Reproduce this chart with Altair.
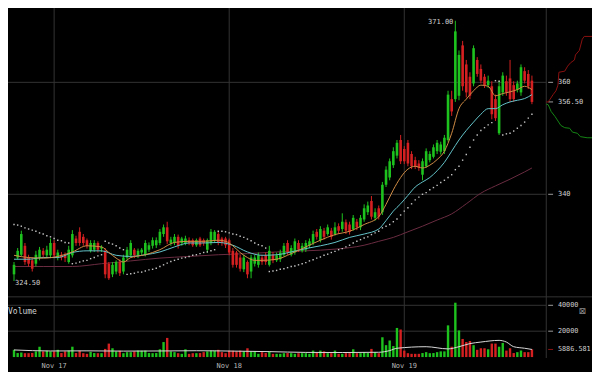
import altair as alt
import pandas as pd

# ---------------- data ----------------
start_time = "2014-11-16 18:30"   # first 30-minute candle

opens = [325.7, 328.7, 329.2, 330.8, 328.7, 328.2, 327.6, 328.7, 329.9, 329.1,
         329.1, 331.3, 328.7, 329.2, 329.1, 327.9, 329.1, 332.1, 333.3, 332.4,
         331.8, 329.9, 330.1, 331.3, 330.3, 329.9, 327.6, 325.7, 326.2, 327.9,
         326.2, 328.7, 329.1, 330.1, 329.1, 329.6, 329.2, 330.1, 330.8, 330.9,
         331.3, 332.9, 334.1, 331.3, 331.3, 332.4, 331.3, 331.3, 331.8, 331.8,
         330.9, 332.1, 331.8, 330.1, 331.3, 331.8, 332.9, 332.1, 332.1, 331.8,
         329.9, 329.6, 328.7, 326.6, 327.9, 326.2, 327.6, 327.4, 328.7, 329.1,
         327.4, 329.2, 328.2, 328.4, 329.2, 331.3, 329.2, 329.6, 331.3, 329.9,
         330.1, 330.8, 331.3, 333.3, 331.8, 333.5, 332.9, 333.5, 332.9, 334.3,
         333.8, 335.0, 334.6, 333.8, 335.1, 334.1, 335.5, 336.8, 338.8, 335.8,
         337.5, 336.8, 341.7, 343.0, 345.2, 346.9, 349.7, 348.1, 349.2, 347.2,
         346.1, 345.5, 343.5, 345.0, 346.1, 346.7, 347.7, 347.6, 347.7, 349.7,
         357.0, 357.0, 357.6, 366.6, 363.2, 361.0, 359.8, 364.0, 362.4, 361.0,
         359.5, 359.3, 357.0, 350.9, 358.2, 360.2, 360.7, 359.5, 358.7, 358.2,
         362.0, 361.5, 360.3]
closes = [327.4, 329.9, 332.9, 327.9, 327.6, 326.7, 329.2, 330.1, 329.2, 330.1,
          331.3, 329.1, 329.6, 328.7, 328.6, 330.1, 332.9, 331.3, 331.3, 331.3,
          330.8, 331.3, 331.3, 330.1, 330.6, 325.7, 325.0, 327.4, 327.9, 325.9,
          328.7, 330.1, 331.3, 329.1, 329.9, 330.1, 331.3, 330.9, 331.8, 331.8,
          333.3, 334.1, 331.6, 331.9, 332.4, 330.8, 332.1, 332.1, 331.3, 330.9,
          331.8, 330.9, 331.3, 331.8, 333.3, 333.3, 331.3, 331.3, 330.9, 329.6,
          327.4, 327.4, 326.7, 328.7, 325.7, 328.7, 328.7, 329.1, 327.9, 327.9,
          329.9, 328.2, 329.1, 329.6, 330.8, 329.6, 330.4, 331.6, 330.1, 330.8,
          331.3, 331.6, 332.9, 332.4, 333.8, 332.4, 334.1, 332.4, 334.1, 333.5,
          335.1, 333.5, 333.3, 335.8, 334.1, 335.8, 337.5, 338.0, 336.0, 336.8,
          336.0, 341.7, 344.4, 345.9, 347.7, 349.2, 345.9, 345.9, 345.5, 345.0,
          345.0, 344.7, 345.9, 347.7, 347.2, 348.4, 349.2, 348.9, 350.1, 357.8,
          354.8, 369.1, 364.9, 359.3, 358.2, 357.6, 366.1, 361.5, 360.3, 359.5,
          360.3, 354.3, 353.6, 359.3, 361.2, 358.2, 357.0, 357.0, 359.8, 362.7,
          360.3, 359.3, 356.5]
highs = [327.9, 330.4, 333.5, 331.3, 329.2, 328.7, 329.9, 330.6, 330.4, 330.8,
         332.1, 331.8, 330.1, 329.7, 329.6, 330.8, 333.6, 332.6, 334.1, 332.9,
         332.1, 331.8, 331.8, 331.6, 330.9, 330.4, 327.9, 327.9, 328.2, 328.4,
         329.2, 330.6, 331.8, 330.4, 330.3, 330.4, 331.8, 331.4, 332.3, 332.3,
         333.8, 334.6, 335.1, 332.4, 332.9, 332.8, 332.4, 332.6, 332.3, 332.1,
         332.1, 332.4, 332.1, 332.1, 333.8, 333.6, 333.3, 332.4, 332.4, 332.1,
         330.4, 329.9, 329.2, 329.2, 328.2, 329.2, 329.2, 329.6, 329.2, 329.6,
         330.8, 329.7, 329.6, 330.1, 331.3, 331.8, 330.9, 332.1, 331.8, 331.3,
         331.8, 332.1, 333.5, 333.8, 334.3, 334.0, 334.6, 334.0, 335.0, 334.8,
         336.6, 335.5, 335.1, 336.3, 335.6, 336.3, 338.2, 338.7, 339.7, 337.5,
         338.0, 342.2, 345.0, 346.4, 348.4, 349.7, 350.6, 348.6, 349.7, 347.7,
         346.7, 346.1, 346.4, 348.2, 347.7, 348.9, 349.7, 349.4, 350.6, 358.5,
         358.5, 371.0, 365.7, 367.4, 364.0, 361.8, 366.6, 364.5, 363.2, 361.5,
         361.2, 360.2, 357.8, 360.3, 361.8, 361.2, 364.0, 360.2, 360.3, 363.2,
         362.7, 362.2, 361.2]
lows = [324.5, 328.4, 328.9, 327.4, 327.1, 326.2, 327.1, 328.2, 328.7, 328.6,
        328.6, 328.6, 328.2, 328.2, 327.9, 327.6, 328.7, 330.8, 330.8, 330.8,
        330.3, 329.6, 329.7, 329.6, 329.7, 325.0, 324.7, 325.2, 325.7, 325.4,
        325.7, 328.2, 328.7, 328.6, 328.6, 329.1, 328.9, 329.7, 330.3, 330.4,
        330.9, 332.4, 331.1, 330.8, 330.9, 330.3, 330.8, 330.9, 330.9, 330.6,
        330.6, 330.6, 330.8, 329.6, 330.9, 331.3, 330.9, 330.8, 330.4, 329.1,
        326.9, 326.9, 326.2, 326.1, 325.0, 325.0, 327.1, 326.9, 327.4, 327.4,
        327.1, 327.7, 327.9, 327.9, 328.9, 329.2, 328.9, 329.2, 329.7, 329.6,
        329.7, 330.4, 330.9, 331.9, 331.4, 331.9, 332.6, 331.9, 332.6, 332.9,
        333.3, 332.9, 332.8, 333.5, 333.6, 333.6, 335.1, 336.3, 335.5, 335.3,
        335.5, 336.3, 341.3, 342.5, 344.7, 346.4, 345.4, 345.4, 345.0, 344.5,
        344.5, 344.2, 342.5, 344.7, 345.7, 346.4, 347.2, 347.1, 347.2, 349.4,
        354.0, 356.5, 356.8, 358.5, 357.3, 357.0, 359.3, 361.0, 359.8, 359.0,
        359.0, 353.4, 353.1, 350.6, 357.6, 357.6, 356.5, 356.5, 358.2, 357.6,
        359.8, 358.8, 356.1]
volumes = [5600, 3100, 3500, 3000, 3000, 3200, 4400, 8000, 4400, 4900,
           4400, 4400, 5600, 3100, 4400, 5000, 8000, 3100, 4900, 3000,
           2500, 4000, 3100, 3000, 3000, 6300, 10400, 6800, 4400, 4900,
           3000, 3800, 3800, 4400, 5000, 4900, 5000, 3100, 3000, 3100,
           6000, 11600, 14800, 4400, 3800, 3000, 2500, 6000, 2500, 3000,
           3000, 3100, 3800, 4400, 5000, 5000, 5600, 3800, 3000, 4900,
           4900, 4400, 5000, 4400, 6800, 4400, 4400, 2500, 3800, 3100,
           4400, 2500, 2500, 2500, 3000, 3100, 3000, 2500, 3000, 3000,
           3000, 2500, 5000, 3800, 5000, 4400, 3000, 3000, 5000, 2500,
           2500, 3000, 3000, 6000, 3000, 3000, 3800, 3100, 6300, 3800,
           3000, 15300, 9200, 12800, 8500, 22500, 21300, 5000, 3000, 2500,
           2500, 2500, 3100, 3800, 3000, 3100, 3800, 4400, 4400, 24500,
           8000, 42000, 20600, 14000, 11600, 12400, 9200, 5600, 6800, 6800,
           6000, 10400, 10400, 8000, 10900, 5000, 6800, 3100, 3800, 5000,
           3800, 3800, 6000]

# moving averages (candle index, value)
fast_idx = [0, 4, 8, 12, 16, 20, 24, 26, 28, 30, 32, 36, 40, 44, 48, 52, 56, 58, 60, 62, 64, 66, 68,
            72, 76, 80, 84, 88, 92, 96, 100, 102, 104, 106, 108, 110, 112, 114, 116, 118,
            120, 122, 124, 126, 128, 130, 132, 134, 136, 138, 140, 142]
fast_ma = [329.1, 328.7, 328.6, 328.9, 329.7, 330.8, 330.6, 329.6, 328.6, 327.9, 328.7, 329.2, 330.1,
           331.4, 331.6, 331.6, 331.8, 331.6, 330.8, 329.6, 328.7, 328.2, 328.2,
           328.4, 329.4, 330.6, 331.8, 332.8, 333.4, 334.6, 336.0, 338.2, 340.8, 343.0,
           344.5, 345.0, 344.7, 345.2, 346.2, 347.7, 350.9, 355.3, 357.0, 358.5, 359.5,
           359.3, 357.6, 358.0, 358.3, 358.7, 359.3, 358.7]
slow_idx = [0, 4, 8, 12, 16, 20, 24, 28, 32, 36, 40, 44, 48, 52, 56, 60, 64, 68, 72, 76, 80, 84,
            88, 92, 96, 100, 102, 104, 106, 108, 110, 112, 114, 116, 118, 120, 122, 124,
            126, 128, 130, 132, 134, 136, 138, 140, 142]
slow_ma = [328.4, 328.4, 328.7, 328.7, 329.6, 329.9, 329.9, 329.1, 328.9, 329.2, 329.7, 330.6,
           331.3, 331.3, 331.4, 330.9, 329.7, 329.1, 329.2, 329.7, 330.3, 330.8, 331.4,
           332.3, 332.9, 333.8, 335.3, 337.0, 338.3, 339.8, 341.3, 342.2, 343.0, 344.2,
           345.7, 347.7, 349.7, 351.4, 352.9, 354.3, 355.3, 355.3, 356.0, 356.5, 356.8,
           357.1, 357.8]
long_idx = [0, 8, 16, 24, 32, 40, 48, 56, 64, 72, 80, 88, 96, 100, 104, 108, 112, 116, 120,
            124, 128, 132, 136, 140, 142]
long_ma = [327.1, 327.1, 327.1, 327.6, 328.1, 328.6, 328.9, 329.2, 329.4, 329.7, 329.9, 330.2,
           330.9, 331.6, 332.3, 333.3, 334.3, 335.4, 336.5, 338.3, 340.2, 341.5, 342.7,
           344.0, 344.7]

# parabolic SAR dots, one per candle
sar = [334.6, 334.5, 334.3, 334.0, 333.8, 333.6, 333.4, 333.1, 332.9, 332.6, 332.4, 332.1,
       331.8, 331.7, 331.4, 331.3,
       327.6, 327.7, 327.9, 328.1, 328.2, 328.5, 328.7, 329.0, 329.2,
       331.6, 331.3, 331.1, 330.8, 330.4, 330.1,
       325.7, 325.8, 325.9, 326.1, 326.1, 326.3, 326.5, 326.6, 326.8, 327.1, 327.4, 327.7,
       328.0, 328.2, 328.4, 328.6, 328.7, 328.9, 329.1, 329.2, 329.4, 329.6, 329.7, 329.9,
       330.1,
       333.4, 333.4, 333.3, 333.1, 332.9, 332.8, 332.5, 332.3, 332.0, 331.7, 331.3, 331.0,
       330.8, 330.4,
       326.2, 326.3, 326.4, 326.6, 326.7, 326.9, 327.1, 327.2, 327.4, 327.6, 327.8, 328.1,
       328.3, 328.6, 328.8, 329.1, 329.3, 329.6, 329.8, 330.1, 330.3, 330.6, 330.9, 331.3,
       331.6, 331.9, 332.2, 332.4, 332.8, 333.1, 333.4,
       334.0, 334.3, 334.6, 335.1, 335.6, 336.3, 337.0, 337.6, 338.3, 339.0, 339.5, 340.0,
       340.3, 340.8, 341.2, 341.6, 342.1, 342.5, 343.0, 343.5, 344.4, 345.0, 346.1, 347.1,
       348.4, 349.7, 350.6, 351.4, 351.9, 352.4, 352.8,
       360.3, 360.2,
       350.6, 350.8, 350.9, 351.3, 351.8, 352.3, 352.9, 353.6, 354.3]

vol_ma_idx = [0, 10, 20, 30, 40, 50, 60, 70, 80, 90, 100, 103, 105, 113, 119, 122, 125, 128,
              133, 135, 137, 140, 142]
vol_ma = [5500, 4700, 4800, 4600, 4700, 4900, 4600, 4200, 3600, 3500, 3700, 5000, 6800, 8000,
          6300, 8000, 10400, 11600, 12900, 11600, 8000, 6800, 5886.581]

# market depth (cumulative amount, price)
ask_amt = [0, 300, 600, 1050, 1500, 1800, 1950, 2850, 3300, 3750, 4350, 4500, 5100, 5550, 5850, 7050]
ask_px = [356.5, 356.5, 357.0, 357.8, 358.5, 359.5, 361.8, 362.0, 362.9, 363.5, 364.0, 364.9,
          365.7, 367.7, 368.2, 368.2]
bid_amt = [0, 300, 750, 1350, 1800, 2250, 2850, 3600, 4050, 4800, 5250, 6300, 7050]
bid_px = [356.1, 356.0, 354.8, 353.9, 353.1, 352.3, 351.9, 351.8, 351.1, 350.9, 350.3, 350.1, 350.1]

price_grid_values = [340, 360]
vol_grid_values = [20000, 40000]
date_ticks = ["2014-11-17 00:00", "2014-11-18 00:00", "2014-11-19 00:00"]

# ---------------- layout / style ----------------
W, H = 584, 350
KX, KY = W / 600, H / 372
UP, DOWN = "#1ec21e", "#d42020"
GRID = "#333333"
TICK = "#9a9a9a"
TXT = "#d0d0d0"
FONT = "DejaVu Sans Mono"
AXIS_X = 553 * KX
TICK_X0, TICK_X1, LABEL_X = 555 * KX, 560 * KX, 565 * KX

n = len(closes)
times = pd.date_range(start_time, periods=n, freq="30min")
candles = pd.DataFrame({"t": times, "o": opens, "c": closes, "h": highs, "l": lows,
                        "v": volumes})
candles["dir"] = ["up" if c >= o else "down" for o, c in zip(opens, closes)]

XS = alt.Scale(domain=[alt.DateTime(year=2014, month=11, date=16, hours=18, minutes=21, seconds=42),
                       alt.DateTime(year=2014, month=11, date=20, hours=1, minutes=2, seconds=57)],
               nice=False)
PY = alt.Scale(domain=[321.68, 373.28], range=[307 * KY, 0], nice=False, zero=False)
VY = alt.Scale(domain=[0, 40000], range=[371 * KY, 316 * KY], nice=False, zero=True)
DX = alt.Scale(domain=[0, 7050], range=[553 * KX, 600 * KX], nice=False, zero=False)
DIR = alt.Scale(domain=["up", "down"], range=[UP, DOWN])

xt = alt.X("t:T", scale=XS, axis=None)
col = alt.Color("dir:N", scale=DIR, legend=None)
one = pd.DataFrame({"k": [0]})


def ypx(field):
    return alt.Y(field, scale=PY, axis=None)


def yvol(field, **kw):
    return alt.Y(field, scale=VY, axis=None, **kw)


# ---------------- time axis (grid + labels) ----------------
days = pd.to_datetime(date_ticks)
day_df = pd.DataFrame({"t": days, "s": [d.strftime("%b %d") for d in days]})
day_grid = alt.Chart(day_df).mark_rule(color=GRID).encode(
    x=xt, y=alt.value(0), y2=alt.value(H))
day_labels = alt.Chart(day_df).mark_text(
    font=FONT, fontSize=7, color="#b8b8b8", baseline="middle").encode(
    x=xt, y=alt.value(380 * KY), text="s:N")

# ---------------- price panel ----------------
last = closes[-1]
ptick_df = pd.DataFrame({"p": price_grid_values + [last],
                         "s": [str(v) for v in price_grid_values] + [f"{last:.2f}"]})
price_grid = alt.Chart(pd.DataFrame({"p": price_grid_values})).mark_rule(color=GRID).encode(
    y=ypx("p:Q"), x=alt.value(0), x2=alt.value(AXIS_X))
price_ticks = alt.Chart(ptick_df).mark_rule(color=TICK).encode(
    y=ypx("p:Q"), x=alt.value(TICK_X0), x2=alt.value(TICK_X1))
price_labels = alt.Chart(ptick_df).mark_text(
    align="left", baseline="middle", font=FONT, fontSize=7, color=TXT).encode(
    y=ypx("p:Q"), x=alt.value(LABEL_X), text="s:N")

wicks = alt.Chart(candles).mark_rule(strokeWidth=1).encode(
    x=xt, y=ypx("l:Q"), y2="h:Q", color=col)
bodies = alt.Chart(candles).mark_bar(width=2.6).encode(
    x=xt, y=ypx("o:Q"), y2="c:Q", color=col)


def ma_layer(idx, vals, color):
    df = pd.DataFrame({"t": times[idx], "m": vals})
    return alt.Chart(df).mark_line(color=color, strokeWidth=1, interpolate="monotone").encode(
        x=xt, y=ypx("m:Q"))


long_line = ma_layer(long_idx, long_ma, "#6a2c40")
slow_line = ma_layer(slow_idx, slow_ma, "#63c2c8")
fast_line = ma_layer(fast_idx, fast_ma, "#d08c45")
sar_dots = alt.Chart(pd.DataFrame({"t": times, "s": sar})).mark_square(
    size=2, color="#c4c4c4", opacity=1).encode(x=xt, y=ypx("s:Q"))

imax = highs.index(max(highs))
imin = lows.index(min(lows))
hi_txt = alt.Chart(pd.DataFrame({"t": [times[imax]], "p": [highs[imax]],
                                 "s": [f"{highs[imax]:.2f}"]})).mark_text(
    align="right", baseline="middle", dx=-2, dy=1, font=FONT, fontSize=7, color=TXT).encode(
    x=xt, y=ypx("p:Q"), text="s:N")
lo_txt = alt.Chart(pd.DataFrame({"t": [times[imin]], "p": [lows[imin]],
                                 "s": [f"{lows[imin]:.2f}"]})).mark_text(
    align="left", baseline="middle", dx=1, dy=2, font=FONT, fontSize=7, color=TXT).encode(
    x=xt, y=ypx("p:Q"), text="s:N")

separator = alt.Chart(one).mark_rule(color=GRID).encode(
    x=alt.value(0), x2=alt.value(W), y=alt.value(307 * KY))
border = alt.Chart(one).mark_rule(color=GRID).encode(
    x=alt.value(AXIS_X), y=alt.value(0), y2=alt.value(H))
close_box = alt.Chart(pd.DataFrame({"s": ["\u22a0"]})).mark_text(
    font="DejaVu Sans", fontSize=9, color="#8a8a8a").encode(
    text="s:N", x=alt.value(590 * KX), y=alt.value(322 * KY))

price_group = alt.layer(day_grid, price_grid, separator, border, long_line, wicks, bodies,
                        slow_line, fast_line, sar_dots, hi_txt, lo_txt, price_ticks,
                        price_labels, day_labels, close_box)

# ---------------- volume panel ----------------
vtick_df = pd.DataFrame({"v": vol_grid_values + [vol_ma[-1]],
                         "s": [str(v) for v in vol_grid_values] + [f"{vol_ma[-1]:.3f}"],
                         "c": [TICK, TICK, "#8e1414"]})
vol_grid = alt.Chart(pd.DataFrame({"g": vol_grid_values})).mark_rule(color=GRID).encode(
    y=yvol("g:Q"), x=alt.value(0), x2=alt.value(AXIS_X))
vol_ticks = alt.Chart(vtick_df).mark_rule().encode(
    y=yvol("v:Q"), x=alt.value(TICK_X0), x2=alt.value(TICK_X1),
    color=alt.Color("c:N", scale=None))
vol_labels = alt.Chart(vtick_df).mark_text(
    align="left", baseline="middle", font=FONT, fontSize=6.8, color=TXT).encode(
    y=yvol("v:Q"), x=alt.value(LABEL_X), text="s:N")
vol_bars = alt.Chart(candles).mark_bar(width=2.4).encode(
    x=xt, y=yvol("v:Q", stack=None), color=col)
vol_line = alt.Chart(pd.DataFrame({"t": times[vol_ma_idx], "m": vol_ma})).mark_line(
    color="#d8d8d8", strokeWidth=1, interpolate="monotone").encode(
    x=xt, y=yvol("m:Q"))
vol_title = alt.Chart(pd.DataFrame({"s": ["Volume"]})).mark_text(
    align="left", baseline="middle", font=FONT, fontSize=8, color=TXT).encode(
    text="s:N", x=alt.value(0), y=alt.value(323 * KY))
vol_group = alt.layer(vol_grid, vol_bars, vol_line, vol_ticks, vol_labels, vol_title)

main_group = alt.layer(price_group, vol_group).resolve_scale(y="independent")

# ---------------- market depth ----------------
asks = alt.Chart(pd.DataFrame({"a": ask_amt, "p": ask_px})).mark_line(
    color="#8a1010", strokeWidth=1).encode(
    x=alt.X("a:Q", scale=DX, axis=None), y=ypx("p:Q"), order="a:Q")
bids = alt.Chart(pd.DataFrame({"a": bid_amt, "p": bid_px})).mark_line(
    color="#148414", strokeWidth=1).encode(
    x=alt.X("a:Q", scale=DX, axis=None), y=ypx("p:Q"), order="a:Q")
depth_group = alt.layer(asks, bids)

chart = alt.layer(main_group, depth_group).resolve_scale(
    x="independent", y="independent"
).properties(
    width=W, height=H,
    autosize=alt.AutoSizeParams(type="none"),
    padding={"left": 0, "top": 0, "right": 0, "bottom": 14},
).configure(background="#000000").configure_view(strokeWidth=0)

chart.save("out.html", embed_options={"renderer": "svg", "actions": False})
